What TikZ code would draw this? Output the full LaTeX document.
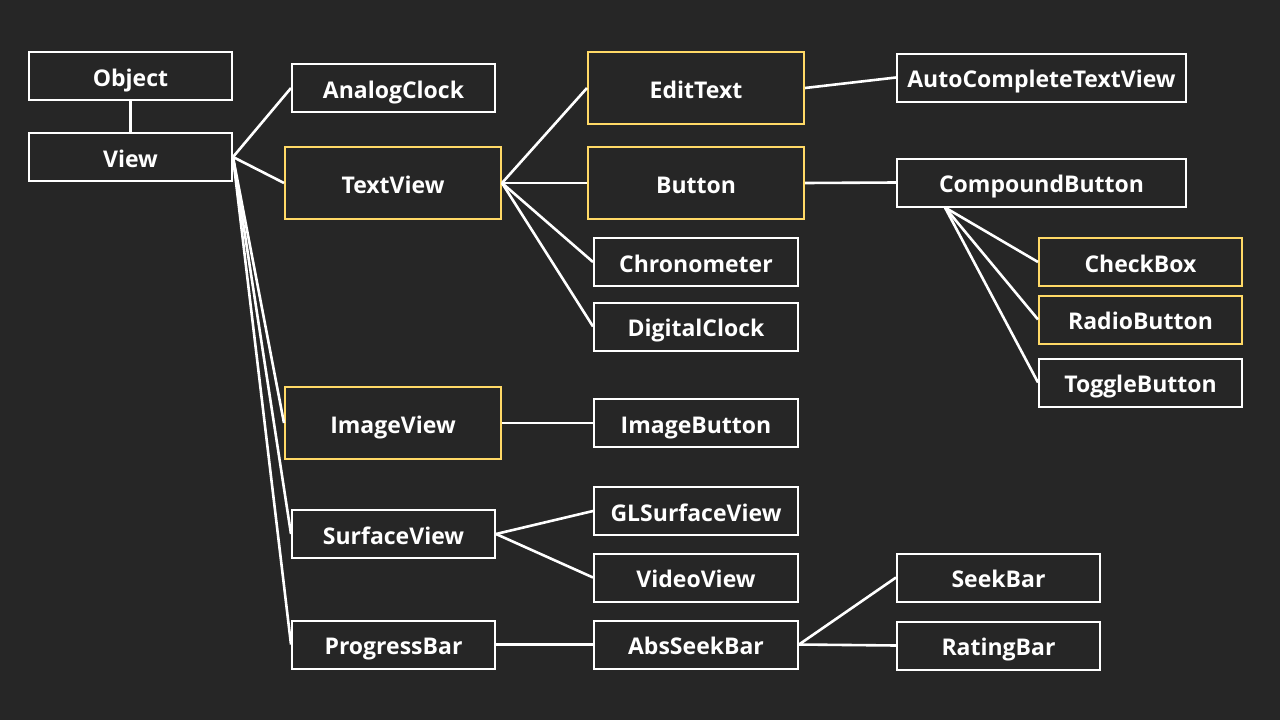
\documentclass[tikz,border=0pt]{standalone}
\usepackage{fontspec}
\setmainfont{Open Sans}
\usetikzlibrary{calc}
\definecolor{bg}{HTML}{262626}
\definecolor{gold}{HTML}{FFD966}
\begin{document}
\begin{tikzpicture}[x=1pt,y=-1pt,
  box/.style={draw=white,line width=2pt,fill=bg,text=white,font=\bfseries\fontsize{23}{26}\selectfont,inner sep=0pt,text height=20.4pt,text depth=0pt,minimum width=#1,minimum height=48pt},
  box/.default=203pt,
  hbox/.style={box=216pt,draw=gold,minimum height=72pt},
  link/.style={draw=white,line width=2.6pt}]
\fill[bg] (0,0) rectangle (1280,720);
\useasboundingbox (0,0) rectangle (1280,720);
% column 1
\node[box] (obj) at (130.5,76) {Object};
\node[box] (view) at (130.5,157) {View};
% column 2
\node[box] (ac) at (393.5,88) {AnalogClock};
\node[hbox] (tv) at (393,183) {TextView};
\node[hbox] (iv) at (393,423) {ImageView};
\node[box] (sv) at (393.5,534) {SurfaceView};
\node[box] (pb) at (393.5,644.5) {ProgressBar};
% column 3
\node[hbox] (et) at (696,88) {EditText};
\node[hbox] (bt) at (696,183) {Button};
\node[box=204pt] (ch) at (696,262) {Chronometer};
\node[box=204pt] (dc) at (696,326.5) {DigitalClock};
\node[box=204pt] (ib) at (696,423) {ImageButton};
\node[box=204pt] (gl) at (696,511) {GLSurfaceView};
\node[box=204pt] (vv) at (696,577.5) {VideoView};
\node[box=204pt] (asb) at (696,644.5) {AbsSeekBar};
% column 4
\node[box=289pt] (actv) at (1041.5,77.5) {AutoCompleteTextView};
\node[box=289pt] (cb) at (1041.5,182.5) {CompoundButton};
\node[box] (sb) at (998.5,577.5) {SeekBar};
\node[box] (rb) at (998.5,645.5) {RatingBar};
% column 5
\node[box,draw=gold] (ck) at (1140.5,262) {CheckBox};
\node[box,draw=gold] (rad) at (1140.5,319.5) {RadioButton};
\node[box] (tg) at (1140.5,382.5) {ToggleButton};
\coordinate (cbs) at ([xshift=49pt]cb.south west);
% links
\draw[link] (obj.south) -- (view.north);
\foreach \t in {ac,tv,iv,sv,pb} \draw[link] (view.east) -- (\t.west);
\foreach \t in {et,bt,ch,dc} \draw[link] (tv.east) -- (\t.west);
\draw[link] (et.east) -- (actv.west);
\draw[link] (bt.east) -- (cb.west);
\foreach \t in {ck,rad,tg} \draw[link] (cbs) -- (\t.west);
\draw[link] (iv.east) -- (ib.west);
\draw[link] (sv.east) -- (gl.west);
\draw[link] (sv.east) -- (vv.west);
\draw[link] (pb.east) -- (asb.west);
\draw[link] (asb.east) -- (sb.west);
\draw[link] (asb.east) -- (rb.west);
\end{tikzpicture}
\end{document}
